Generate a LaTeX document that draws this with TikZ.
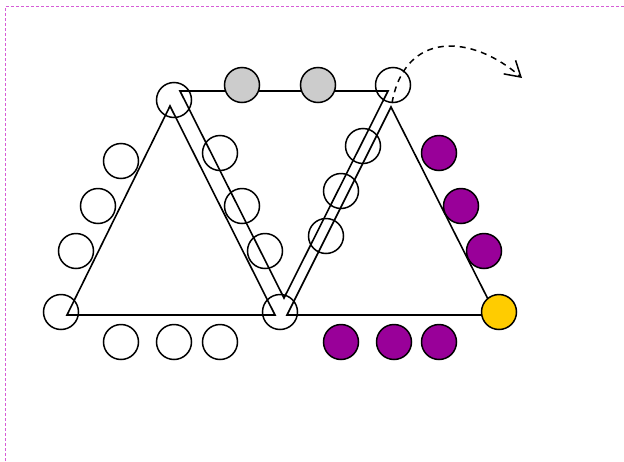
\documentclass[tikz,border=0pt]{standalone}
\usetikzlibrary{arrows.meta}
\definecolor{framepink}{RGB}{214,92,214}
\definecolor{dotgrey}{RGB}{204,204,204}
\definecolor{dotpurple}{RGB}{153,0,153}
\definecolor{dotyellow}{RGB}{255,204,0}
\tikzstyle{frame}=[framepink,line width=1pt,dash pattern=on 3pt off 2pt]
\tikzstyle{tri}=[line width=1.6pt]
\tikzstyle{dot}=[draw,circle,line width=1.5pt,minimum size=35pt,inner sep=0pt]
\tikzstyle{dot-w}=[dot]
\tikzstyle{dot-g}=[dot,fill=dotgrey]
\tikzstyle{dot-p}=[dot,fill=dotpurple]
\tikzstyle{dot-y}=[dot,fill=dotyellow]
\tikzstyle{flip}=[line width=1.5pt,dash pattern=on 6pt off 5pt,-{Straight Barb[length=15pt,width=18pt,line width=1.5pt]}]

\begin{document}
\begin{tikzpicture}[x=1pt,y=-1pt]
    \useasboundingbox (0,0) rectangle (624,461);
    \draw[frame] (5.5,461) -- (5.5,6.5) -- (624,6.5);
    % corners of the three triangles
    \coordinate (la) at (67,315);
    \coordinate (lb) at (170,106);
    \coordinate (lc) at (275,315);
    \coordinate (ma) at (180,91);
    \coordinate (mb) at (388,91);
    \coordinate (mc) at (284,298);
    \coordinate (ra) at (287,315);
    \coordinate (rb) at (391,107);
    \coordinate (rc) at (496,315);
    \draw[tri] (la) -- (lb) -- (lc) -- cycle;
    \draw[tri] (ma) -- (mb) -- (mc) -- cycle;
    \draw[tri] (ra) -- (rb) -- (rc) -- cycle;
    % vertices
    \node[dot-w] (v1) at (61,312)  {};
    \node[dot-w] (v2) at (174,100) {};
    \node[dot-w] (v3) at (280,312) {};
    \node[dot-w] (v4) at (393,85)  {};
    \node[dot-y] (v5) at (499,312) {};
    % edge points
    \node[dot-w] (e1) at (121,161) {};
    \node[dot-w] (e2) at (98,206)  {};
    \node[dot-w] (e3) at (76,251)  {};
    \node[dot-w] (e4) at (121,342) {};
    \node[dot-w] (e5) at (174,342) {};
    \node[dot-w] (e6) at (220,342) {};
    \node[dot-w] (e7) at (220,153) {};
    \node[dot-w] (e8) at (242,206) {};
    \node[dot-w] (e9) at (265,251) {};
    \node[dot-g] (g1) at (242,85)  {};
    \node[dot-g] (g2) at (318,85)  {};
    \node[dot-w] (d1) at (363,146) {};
    \node[dot-w] (d2) at (341,191) {};
    \node[dot-w] (d3) at (326,236) {};
    \node[dot-p] (p1) at (439,153) {};
    \node[dot-p] (p2) at (461,206) {};
    \node[dot-p] (p3) at (484,251) {};
    \node[dot-p] (p4) at (341,342) {};
    \node[dot-p] (p5) at (394,342) {};
    \node[dot-p] (p6) at (439,342) {};
    % the flip
    \coordinate (fs) at (392,103);
    \coordinate (fe) at (522,78);
    \draw[flip] (fs) .. controls (405,30) and (472,34) .. (fe);
\end{tikzpicture}
\end{document}
